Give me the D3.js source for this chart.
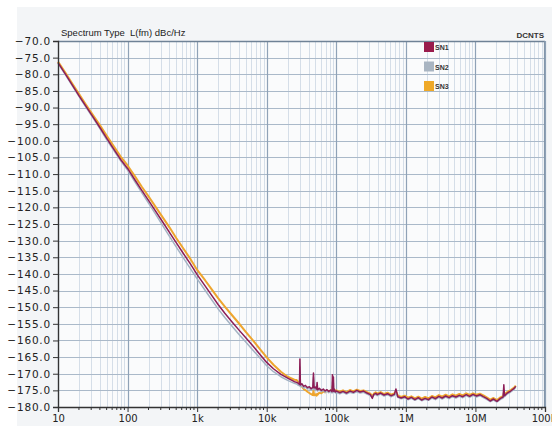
<!DOCTYPE html>
<html>
<head>
<meta charset="utf-8">
<script src="https://cdn.jsdelivr.net/npm/d3@7"></script>
<style>
  body { margin: 0; background: #fff; }
  svg { display: block; }
</style>
</head>
<body>
<svg id="chart" width="552" height="426"></svg>
<script>
// offset frequency, Hz (slope part, then noise floor part)
var freqSlope = [10, 13, 16, 20, 25, 32, 40, 50, 63, 80, 100, 130, 160, 200, 250, 320, 400, 500, 630, 800,
  1000, 1300, 1600, 2000, 2500, 3200, 4000, 5000, 6300, 8000, 10000, 12500, 16000, 20000, 25000];

var freqFloor = [27000, 28500, 29600, 30000, 30500, 32000, 34000, 36000, 38500, 41000, 43500, 46000, 47000, 48000,
  50000, 52000, 53000, 54000, 57000, 61000, 65000, 69000, 73000, 78000, 83000, 87000, 88000, 89500, 91000, 92000,
  93500, 97000, 100000, 112000, 125000, 140000, 157000, 176000, 197000, 220000, 247000, 276000, 309000, 330000,
  346000, 370000, 388000, 434000, 486000, 545000, 610000, 683000, 720000, 765000, 857000, 960000, 1075000, 1200000,
  1350000, 1510000, 1690000, 1890000, 2120000, 2370000, 2660000, 2980000, 3330000, 3730000, 4180000, 4680000,
  5240000, 5870000, 6580000, 7370000, 8250000, 9240000, 10350000, 11600000, 13000000, 14500000, 16300000,
  18200000, 20400000, 22900000, 25000000, 25600000, 26200000, 28700000, 32100000, 36000000, 38000000];

// L(fm) dBc/Hz
var sn1Slope = [-76.5, -80.2, -83.2, -86.4, -89.5, -92.9, -96.0, -99.2, -102.4, -105.7, -108.3, -112.0, -114.9,
  -117.9, -121.0, -124.4, -127.5, -130.6, -133.8, -137.0, -140.2, -143.6, -146.3, -149.2, -151.8, -154.5, -156.9,
  -159.2, -161.6, -164.2, -166.6, -168.5, -170.2, -171.3, -172.4];
var sn2Slope = [-76.7, -80.4, -83.4, -86.6, -89.8, -93.2, -96.3, -99.6, -102.8, -106.1, -108.8, -112.6, -115.6,
  -118.7, -121.9, -125.5, -128.7, -131.9, -135.1, -138.4, -141.5, -144.9, -147.6, -150.5, -153.1, -155.8, -158.2,
  -160.5, -162.9, -165.3, -167.6, -169.4, -170.9, -172.0, -172.9];
var sn3Slope = [-76.2, -79.8, -82.8, -85.9, -89.0, -92.3, -95.3, -98.4, -101.6, -104.8, -107.4, -110.9, -113.8,
  -116.7, -119.7, -123.0, -126.0, -129.2, -132.3, -135.5, -138.8, -141.9, -144.5, -147.3, -149.8, -152.5, -154.9,
  -157.4, -159.9, -162.6, -165.1, -167.3, -169.4, -170.9, -171.8];

var sn1Floor = [-172.6, -172.9, -173.2, -165.6, -173.4, -173.0, -173.8, -173.5, -174.2, -173.9, -174.5, -174.1,
  -169.8, -174.3, -174.0, -174.6, -172.6, -174.8, -174.4, -175.0, -174.6, -175.2, -174.8, -175.3, -174.9, -175.4,
  -170.3, -175.0, -171.0, -175.3, -174.6, -175.5, -175.2, -175.7, -175.3, -175.8, -175.2, -175.6, -175.0, -175.5,
  -175.2, -175.8, -176.3, -177.4, -176.2, -175.9, -176.3, -175.8, -176.4, -176.0, -176.6, -176.2, -174.6, -176.9,
  -177.3, -176.9, -177.6, -177.1, -177.8, -177.2, -177.9, -177.4, -177.8, -177.0, -177.5, -176.8, -177.3, -176.7,
  -177.2, -176.6, -177.0, -176.5, -176.9, -176.3, -176.8, -176.2, -176.7, -176.3, -176.9, -177.4, -178.2, -177.6,
  -178.3, -177.4, -177.0, -173.3, -176.6, -175.8, -175.2, -174.4, -173.8];
var sn2Floor = [-173.1, -173.5, -173.6, -168.0, -173.9, -173.6, -174.3, -174.0, -174.6, -174.3, -174.9, -174.5,
  -171.0, -174.8, -174.5, -175.0, -174.4, -175.2, -174.8, -175.4, -175.0, -175.6, -175.2, -175.7, -175.3, -175.8,
  -172.5, -175.4, -172.8, -175.6, -175.1, -175.8, -175.6, -176.0, -175.6, -176.1, -175.6, -175.9, -175.4, -175.8,
  -175.6, -176.1, -176.6, -177.0, -176.5, -176.2, -176.6, -176.1, -176.7, -176.3, -176.9, -176.5, -175.8, -177.1,
  -177.5, -177.2, -177.8, -177.4, -178.0, -177.5, -178.1, -177.7, -178.0, -177.3, -177.8, -177.1, -177.6, -177.0,
  -177.5, -176.9, -177.3, -176.8, -177.2, -176.6, -177.1, -176.5, -177.0, -176.6, -177.2, -177.7, -178.4, -177.9,
  -178.5, -177.7, -177.3, -175.0, -176.9, -176.1, -175.5, -174.7, -174.1];
var sn3Floor = [-171.9, -172.5, -173.0, -172.2, -173.6, -173.8, -174.6, -174.9, -175.4, -175.8, -176.1, -176.4,
  -175.0, -176.5, -176.2, -176.6, -176.0, -176.3, -175.7, -175.9, -175.3, -175.6, -175.1, -175.4, -175.0, -175.3,
  -173.8, -175.1, -174.5, -175.2, -174.8, -175.3, -175.0, -175.4, -175.0, -175.5, -174.9, -175.3, -174.8, -175.2,
  -175.0, -175.5, -176.0, -176.8, -176.0, -175.6, -176.0, -175.5, -176.1, -175.7, -176.3, -175.9, -175.3, -176.5,
  -177.0, -176.6, -177.2, -176.8, -177.4, -176.9, -177.5, -177.0, -177.4, -176.7, -177.1, -176.4, -176.9, -176.3,
  -176.8, -176.2, -176.6, -176.1, -176.5, -175.9, -176.4, -175.9, -176.3, -176.0, -176.5, -177.1, -177.8, -177.3,
  -177.9, -177.1, -176.7, -175.8, -176.2, -175.5, -174.9, -174.2, -173.6];

var seriesNames = ["SN1", "SN2", "SN3"];
var seriesColors = ["#8c1d56", "#a4b3c4", "#eea52e"];
var legendColors = ["#9a1c4c", "#a9b5c2", "#efa928"];

var yTicks = d3.range(-180, -69, 5);
var decades = [10, 100, 1e3, 1e4, 1e5, 1e6, 1e7, 1e8];
var decadeLabels = ["10", "100", "1k", "10k", "100k", "1M", "10M", "100M"];

var margin = {top: 41, right: 7, bottom: 19, left: 58},
    width = 552 - margin.left - margin.right,
    height = 426 - margin.top - margin.bottom;

var svg = d3.select("#chart");

// grey panel behind everything
svg.append("rect")
  .attr("x", 17).attr("y", 7)
  .attr("width", 552 - 17).attr("height", 426 - 7)
  .attr("fill", "#f3f5f7");

var x = d3.scaleLog().domain([10, 1e8]).range([margin.left, margin.left + width]);
var y = d3.scaleLinear().domain([-180, -70]).range([margin.top + height, margin.top]);

svg.append("rect")
  .attr("x", x(10)).attr("y", y(-70))
  .attr("width", x(1e8) - x(10)).attr("height", y(-180) - y(-70))
  .attr("fill", "#fafbfc");

// minor frequencies 2..9 per decade
var minors = [];
for (var d = 0; d < decades.length - 1; d++) {
  for (var m = 2; m < 10; m++) minors.push(decades[d] * m);
}

var grid = svg.append("g").attr("class", "grid");
grid.selectAll("line.minor")
  .data(minors)
  .enter().append("line")
  .attr("class", "minor")
  .attr("x1", function(d) { return Math.round(x(d)) + 0.5; })
  .attr("x2", function(d) { return Math.round(x(d)) + 0.5; })
  .attr("y1", y(-70)).attr("y2", y(-180))
  .style("stroke", "#d5dee8").style("stroke-width", 1);

grid.selectAll("line.hz")
  .data(yTicks)
  .enter().append("line")
  .attr("class", "hz")
  .attr("x1", x(10)).attr("x2", x(1e8))
  .attr("y1", function(d) { return Math.round(y(d)) + 0.5; })
  .attr("y2", function(d) { return Math.round(y(d)) + 0.5; })
  .style("stroke", "#aab9c9").style("stroke-width", 1.2);

grid.selectAll("line.major")
  .data(decades)
  .enter().append("line")
  .attr("class", "major")
  .attr("x1", function(d) { return Math.round(x(d)) + 0.5; })
  .attr("x2", function(d) { return Math.round(x(d)) + 0.5; })
  .attr("y1", y(-70)).attr("y2", y(-180))
  .style("stroke", "#8fa2b7").style("stroke-width", 1.2);

// border top/right
svg.append("line")
  .attr("x1", x(10)).attr("x2", x(1e8))
  .attr("y1", y(-70) + 0.5).attr("y2", y(-70) + 0.5)
  .style("stroke", "#6f8296").style("stroke-width", 1.5);
svg.append("line")
  .attr("x1", x(1e8) - 0.5).attr("x2", x(1e8) - 0.5)
  .attr("y1", y(-70)).attr("y2", y(-180))
  .style("stroke", "#8396aa").style("stroke-width", 1.2);

// traces
var freqs = freqSlope.concat(freqFloor);
var allValues = [sn1Slope.concat(sn1Floor), sn2Slope.concat(sn2Floor), sn3Slope.concat(sn3Floor)];

var line = d3.line()
  .x(function(d) { return x(d[0]); })
  .y(function(d) { return y(d[1]); });

var drawOrder = [2, 1, 0];
var traces = svg.append("g").attr("class", "traces");
drawOrder.forEach(function(i) {
  var pts = freqs.map(function(f, k) { return [f, allValues[i][k]]; });
  traces.append("path")
    .datum(pts)
    .attr("d", line)
    .style("fill", "none")
    .style("stroke", seriesColors[i])
    .style("stroke-width", i == 2 ? 2 : 1.5)
    .style("stroke-linejoin", "round");
});

// y axis
var yAxis = svg.append("g")
  .attr("transform", "translate(" + margin.left + ",0)")
  .call(d3.axisLeft(y).tickValues(yTicks).tickFormat(d3.format(".1f")).tickSize(5).tickPadding(2));
yAxis.selectAll("text")
  .style("font-family", "DejaVu Sans, Verdana, sans-serif")
  .style("font-size", "10.5px")
  .style("letter-spacing", "0.8px")
  .style("fill", "#222");
yAxis.selectAll("line").style("stroke", "#333");
yAxis.select(".domain").style("stroke", "#333").style("stroke-width", 1.3);

// x axis
var xAxis = svg.append("g")
  .attr("transform", "translate(0," + (margin.top + height) + ")")
  .call(d3.axisBottom(x).tickValues(decades)
    .tickFormat(function(d, i) { return decadeLabels[i]; })
    .tickSize(5).tickPadding(3));
xAxis.selectAll("text")
  .style("font-family", "DejaVu Sans, Verdana, sans-serif")
  .style("font-size", "10px")
  .style("fill", "#222");
xAxis.selectAll("line").style("stroke", "#333");
xAxis.select(".domain").style("stroke", "#333").style("stroke-width", 1.3);

xAxis.selectAll("line.minortick")
  .data(minors)
  .enter().append("line")
  .attr("class", "minortick")
  .attr("x1", function(d) { return x(d); })
  .attr("x2", function(d) { return x(d); })
  .attr("y1", 0).attr("y2", 3)
  .style("stroke", "#333");

// title texts
svg.append("text")
  .attr("x", 61).attr("y", 36)
  .style("font-family", "Liberation Sans, Arial, sans-serif")
  .style("font-size", "9.5px")
  .style("white-space", "pre")
  .style("fill", "#222")
  .text("Spectrum Type  L(fm) dBc/Hz");

svg.append("text")
  .attr("x", 544).attr("y", 38)
  .attr("text-anchor", "end")
  .style("font-family", "Liberation Sans, Arial, sans-serif")
  .style("font-size", "8px")
  .style("font-weight", "bold")
  .style("fill", "#333")
  .text("DCNTS");

// legend
var legend = svg.append("g").attr("class", "legend");
seriesNames.forEach(function(name, i) {
  var ly = 42 + i * 19.5;
  legend.append("rect")
    .attr("x", 424).attr("y", ly)
    .attr("width", 10).attr("height", 10)
    .attr("fill", legendColors[i]);
  legend.append("text")
    .attr("x", 435).attr("y", ly + 8)
    .style("font-family", "Liberation Sans, Arial, sans-serif")
    .style("font-size", "7px")
    .style("font-weight", "bold")
    .style("fill", "#333")
    .text(name);
});
</script>
</body>
</html>
